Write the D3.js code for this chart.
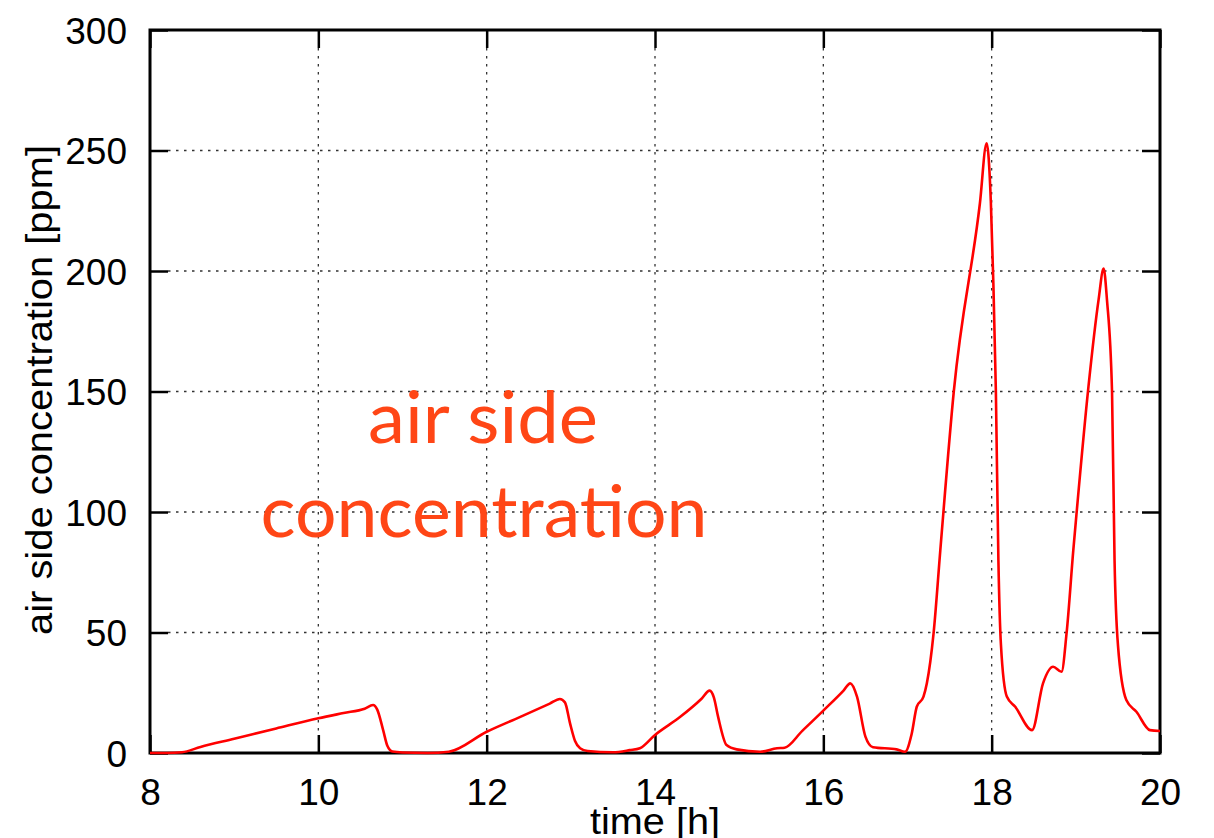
<!DOCTYPE html>
<html><head><meta charset="utf-8">
<script src="https://cdn.jsdelivr.net/npm/d3@7"></script>
<style>body{margin:0;background:#fff;} svg{display:block;}</style>
</head><body>
<svg id="c" width="1214" height="838"></svg>
<script>
const hours = [8.0,8.2,8.38,8.6,9.0,9.5,10.0,10.3,10.55,10.65,10.7,10.77,10.82,10.88,11.0,11.3,11.55,12.0,12.4,12.75,12.87,12.93,12.99,13.05,13.11,13.2,13.5,13.7,13.82,14.0,14.3,14.55,14.65,14.7,14.75,14.85,14.97,15.25,15.45,15.54,15.75,16.0,16.24,16.32,16.4,16.5,16.59,16.87,16.97,17.05,17.11,17.19,17.23,17.31,17.39,17.55,17.86,17.94,17.99,18.02,18.05,18.08,18.11,18.18,18.28,18.48,18.61,18.73,18.83,18.89,18.97,19.01,19.15,19.27,19.33,19.37,19.43,19.46,19.5,19.6,19.72,19.88,20.0];
const ppm   = [0,0,0.3,2.5,5.9,10.2,14.4,16.6,18.4,19.9,18,9.5,3,0.6,0.2,0,0.5,8.8,15,20.5,22.4,21,12.4,5,2,0.8,0.3,1.2,2,7.5,15,22.4,25.9,23,15,3.3,1.5,0.5,2,2.2,9.2,17.6,25.9,28.9,23.4,6.8,2.4,1.5,0.5,8,19.2,23.4,28.9,49.7,84.2,150,228,253,229,195,150,80,45,23.4,19.2,9.5,28.9,35.8,33.7,49.7,84.2,100,152,188,201,188,150,80,45,22,17.1,9.5,9.1];
const xTicks = [8,10,12,14,16,18,20];
const yTicks = [0,50,100,150,200,250,300];
const xLabel = "time [h]";
const yLabel = "air side concentration [ppm]";
const annotation = ["air side", "concentration"];

const svg = d3.select("#c");
const L=150, R=1160, T=30, B=753;
const x = d3.scaleLinear().domain([8,20]).range([L,R]);
const y = d3.scaleLinear().domain([0,300]).range([B,T]);
const tk = 18;
const font = "'Liberation Sans', Arial, Helvetica, sans-serif";

// grid
const g = svg.append("g");
g.selectAll("line.gx").data(xTicks.filter(d=>d>8&&d<20)).enter().append("line")
  .attr("x1",d=>x(d)).attr("x2",d=>x(d)).attr("y1",T+tk).attr("y2",B-tk)
  .attr("stroke","#333").attr("stroke-width",1.3).attr("stroke-dasharray","2.5,5.5");
g.selectAll("line.gy").data(yTicks.filter(d=>d>0&&d<300)).enter().append("line")
  .attr("y1",d=>y(d)).attr("y2",d=>y(d)).attr("x1",L+tk).attr("x2",R-tk)
  .attr("stroke","#333").attr("stroke-width",1.3).attr("stroke-dasharray","2.5,5.5");

// axes with inward ticks
const axB = d3.axisBottom(x).tickValues(xTicks).tickSize(-tk).tickPadding(34).tickFormat(d3.format("d"));
const axT = d3.axisTop(x).tickValues(xTicks).tickSize(-tk).tickFormat("");
const axLft = d3.axisLeft(y).tickValues(yTicks).tickSize(-tk).tickPadding(26).tickFormat(d3.format("d"));
const axRt = d3.axisRight(y).tickValues(yTicks).tickSize(-tk).tickFormat("");
function style(sel){
  sel.select(".domain").remove();
  sel.selectAll(".tick line").attr("stroke","#000").attr("stroke-width",2.5);
  sel.selectAll(".tick text").attr("fill","#000").style("font-family",font).style("font-size","37px");
}
svg.append("g").attr("transform",`translate(0,${B})`).call(axB).call(style)
  .selectAll(".tick text").attr("dy","0.71em").attr("y",26);
svg.append("g").attr("transform",`translate(0,${T})`).call(axT).call(style);
svg.append("g").attr("transform",`translate(${L},0)`).call(axLft).call(style)
  .selectAll(".tick text").attr("x",-23).attr("dy","0.36em");
svg.append("g").attr("transform",`translate(${R},0)`).call(axRt).call(style);

// frame
svg.append("rect").attr("x",L).attr("y",T).attr("width",R-L).attr("height",B-T)
  .attr("fill","none").attr("stroke","#000").attr("stroke-width",3);

// data line
const data = hours.map((h,i)=>[h,ppm[i]]);
svg.append("path").datum(data)
  .attr("d", d3.line().x(d=>x(d[0])).y(d=>y(d[1])).curve(d3.curveMonotoneX))
  .attr("fill","none").attr("stroke","#ff0000").attr("stroke-width",2.6).attr("stroke-linejoin","round");

// axis labels
svg.append("text").attr("x",655).attr("y",834).attr("text-anchor","middle")
  .style("font-family",font).style("font-size","36px").attr("textLength",130).attr("lengthAdjust","spacingAndGlyphs")
  .text(xLabel);
svg.append("text").attr("transform","translate(52,390) rotate(-90)").attr("text-anchor","middle")
  .style("font-family",font).style("font-size","36px").attr("textLength",490).attr("lengthAdjust","spacingAndGlyphs")
  .text(yLabel);

// annotation
const af = "Lato, 'Open Sans', sans-serif";
svg.append("text").attr("x",483).attr("y",443).attr("text-anchor","middle")
  .style("font-family",af).style("font-size","72px").attr("fill","#ff4616")
  .attr("textLength",230).attr("lengthAdjust","spacingAndGlyphs").text(annotation[0]);
svg.append("text").attr("x",484).attr("y",537).attr("text-anchor","middle")
  .style("font-family",af).style("font-size","72px").attr("fill","#ff4616")
  .attr("textLength",447).attr("lengthAdjust","spacingAndGlyphs").text(annotation[1]);
</script>
</body></html>
